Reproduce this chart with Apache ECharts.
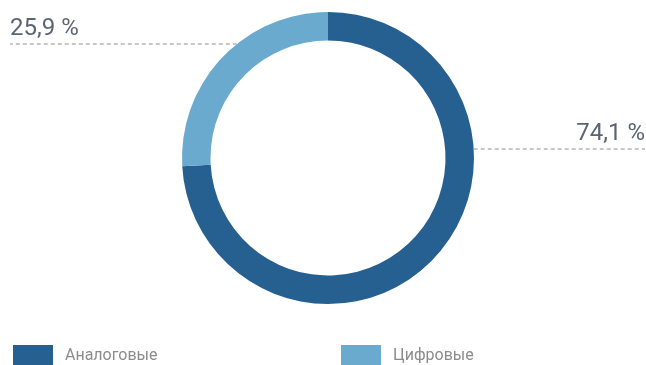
<!DOCTYPE html>
<html>
<head>
<meta charset="utf-8">
<script src="https://cdn.jsdelivr.net/npm/echarts@6/dist/echarts.min.js"></script>
<style>
html, body { margin: 0; padding: 0; background: #fff; }
#chart { width: 646px; height: 365px; }
</style>
</head>
<body>
<div id="chart"></div>
<script>
var categories = ['Аналоговые', 'Цифровые'];
var shares = [74.1, 25.9];
var labelTexts = ['74,1 %', '25,9 %'];
var colorList = ['#266091', '#6aaacf'];

// label line heights (px from top)
var lineY = [149, 44];

var cx = 328, cy = 158, rOut = 146, rIn = 117.5;
var W = 646;
var font = 'Roboto, "Noto Sans", sans-serif';

var myChart = echarts.init(document.getElementById('chart'));

var seriesData = categories.map(function (name, i) {
	return { name: name, value: shares[i], itemStyle: { color: colorList[i] } };
});

function legendAt(name, left) {
	return {
		data: [name],
		left: left, top: 345,
		padding: 0,
		itemWidth: 40, itemHeight: 22, itemGap: 0,
		icon: 'rect',
		textStyle: { color: '#8c8c8c', fontSize: 16, fontFamily: font, padding: [9, 0, 0, 7] }
	};
}

var option = {
	animation: false,
	textStyle: { fontFamily: font },
	legend: [legendAt(categories[0], 13), legendAt(categories[1], 341)],
	series: [{
		type: 'pie',
		center: [cx, cy],
		radius: [rIn, rOut],
		startAngle: 90,
		clockwise: true,
		silent: true,
		data: seriesData,
		label: {
			show: true,
			position: 'outside',
			formatter: function (p) { return labelTexts[p.dataIndex]; },
			color: '#5b6572',
			fontSize: 24,
			fontFamily: font
		},
		labelLine: {
			show: true,
			lineStyle: { color: '#909090', width: 1, type: [4, 3] }
		},
		labelLayout: function (params) {
			var i = params.dataIndex;
			var y = lineY[i];
			var dx = Math.sqrt(rOut * rOut - (cy - y) * (cy - y));
			var isLeft = i === 1;
			var xr = isLeft ? cx - dx : cx + dx;
			var xe = isLeft ? 10 : W - 1;
			return {
				x: xe,
				y: y - 3,
				align: isLeft ? 'left' : 'right',
				verticalAlign: 'bottom',
				labelLinePoints: [[xr, y], [xr, y], [xe, y]]
			};
		}
	}]
};

myChart.setOption(option);
</script>
</body>
</html>
